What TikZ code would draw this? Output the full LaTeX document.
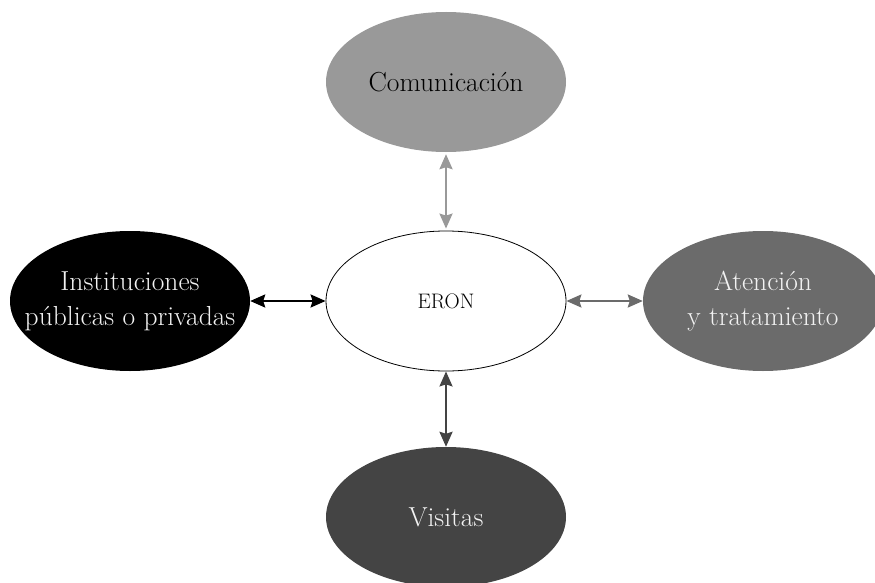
\documentclass[tikz,border=0pt]{standalone}
\usetikzlibrary{arrows.meta,shapes.geometric}
\definecolor{cgray}{HTML}{999999}
\definecolor{agray}{HTML}{6B6B6B}
\definecolor{vgray}{HTML}{444444}
\definecolor{ltext}{HTML}{F2F2F2}
\tikzset{
  blob/.style={ellipse, minimum width=240pt, minimum height=140pt, inner sep=0pt},
  lbl/.style={align=center, font=\fontsize{27.5}{35}\selectfont},
  link/.style={line width=2.3pt, {Stealth[length=15pt,width=13pt,inset=2pt]}-{Stealth[length=15pt,width=13pt,inset=2pt]}},
}
\begin{document}
\begin{tikzpicture}[x=1pt,y=-1pt]
\useasboundingbox (0,0) rectangle (875,583);
\node[blob, fill=cgray] (com) at (446,82) {};
\node[blob, draw=black, line width=0.8pt, fill=white] (eron) at (446,301) {};
\node[blob, fill=black] (inst) at (130,301) {};
\node[blob, fill=agray] (aten) at (763,301) {};
\node[blob, fill=vgray] (vis) at (446,517) {};

\node[lbl, text=black] (tcom) at (com.center) {Comunicación};
\node[align=center, font=\fontsize{21}{25}\selectfont, text=black] (teron) at (eron.center) {ERON};
\node[lbl, text=ltext] (tinst) at (inst.center) {Instituciones\\públicas o privadas};
\node[lbl, text=ltext] (taten) at (aten.center) {Atención\\y tratamiento};
\node[lbl, text=ltext] (tvis) at (vis.center) {Visitas};

\draw[link, cgray, shorten <=2pt, shorten >=2pt] (com.south) -- (eron.north);
\draw[link, black] (inst.east) -- (eron.west);
\draw[link, agray] (eron.east) -- (aten.west);
\draw[link, vgray] (eron.south) -- (vis.north);
\end{tikzpicture}
\end{document}
